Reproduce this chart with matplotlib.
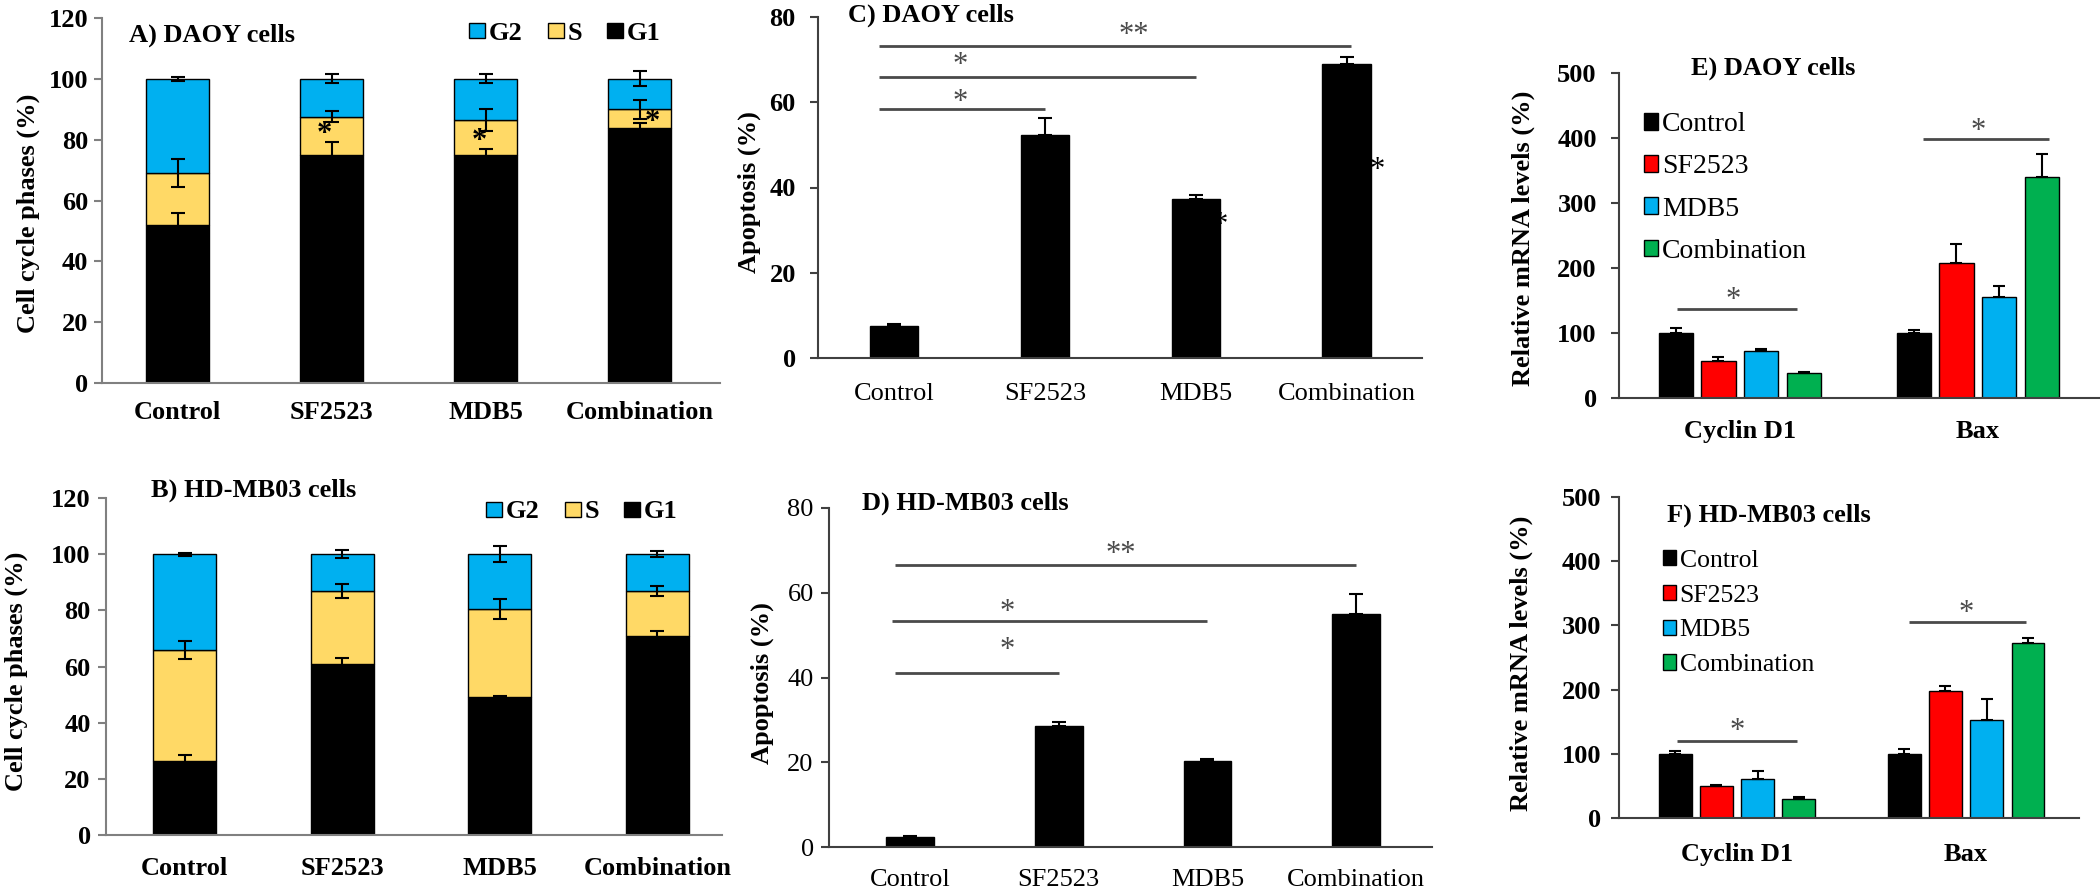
import matplotlib
matplotlib.use('Agg')
import matplotlib.pyplot as plt
from matplotlib.transforms import offset_copy
import numpy as np

plt.rcParams['font.family'] = ['Liberation Serif', 'DejaVu Serif']
plt.rcParams['font.size'] = 19

# --- data ---
cats = ['Control', 'SF2523', 'MDB5', 'Combination']

# A) DAOY cell cycle (%)
daoy_g1 = [52, 75, 75, 84]
daoy_s = [17, 12.5, 11.5, 6]
daoy_g2 = [31, 12.5, 13.5, 10]
daoy_g1_err = [3.8, 4.3, 2, 1.5]
daoy_s_err = [4.5, 1.8, 3.5, 3.2]
daoy_g2_err = [0.7, 1.5, 1.5, 2.5]

# B) HD-MB03 cell cycle (%)
hdm_g1 = [26.5, 61, 49, 71]
hdm_s = [39.5, 26, 31.5, 16]
hdm_g2 = [34, 13, 19.5, 13]
hdm_g1_err = [2, 2, 0.5, 1.8]
hdm_s_err = [3.2, 2.5, 3.5, 1.8]
hdm_g2_err = [0.5, 1.4, 2.8, 1]

# C/D) apoptosis (%)
apop_daoy = [7.5, 52.3, 37.4, 69.0]
apop_daoy_err = [0.4, 3.9, 0.8, 1.6]
apop_hdm = [2.4, 28.5, 20.4, 55.1]
apop_hdm_err = [0.3, 1.1, 0.3, 4.6]

# E/F) relative mRNA levels (%)
genes = ['Cyclin D1', 'Bax']
daoy_ctrl = [100, 100]
daoy_sf = [57, 208]
daoy_mdb = [73, 156]
daoy_comb = [38, 340]
daoy_ctrl_err = [7, 4]
daoy_sf_err = [6, 29]
daoy_mdb_err = [2.5, 16]
daoy_comb_err = [2.5, 35]

hdm_ctrl = [100, 100]
hdm_sf = [50, 198]
hdm_mdb = [61, 152]
hdm_comb = [29, 273]
hdm_ctrl_err = [5, 7]
hdm_sf_err = [2, 8]
hdm_mdb_err = [12, 33]
hdm_comb_err = [3, 8]

# significance brackets: (x start, x end, height) and star labels (x, y, text)
sig_c_lines = [(-0.1, 1.0, 58.4), (-0.1, 2.0, 65.9), (-0.1, 3.03, 73.2)]
sig_c_stars = [(0.44, 61.5, '*'), (0.44, 70.3, '*'), (1.59, 77.2, '**')]
sig_d_lines = [(-0.1, 1.0, 41.0), (-0.12, 2.0, 53.4), (-0.1, 3.0, 66.6)]
sig_d_stars = [(0.65, 47.9, '*'), (0.65, 56.9, '*'), (1.42, 70.7, '**')]
sig_e_lines = [(-0.265, 0.24, 137), (0.77, 1.30, 398)]
sig_e_stars = [(-0.03, 161, '*'), (1.0, 420, '*')]
sig_f_lines = [(-0.26, 0.26, 120), (0.75, 1.26, 305)]
sig_f_stars = [(0.0, 145, '*'), (1.0, 329, '*')]

BLUE = '#00B0F0'
YELLOW = '#FFD966'
RED = '#FF0000'
GREEN = '#00B050'
SIG = '#4a4a4a'
STAR_FS = 22

W, H = 2100, 893
fig = plt.figure(figsize=(21, 8.93), dpi=100)


def add_axes(left, top, right, bottom):
    return fig.add_axes([left / W, 1 - bottom / H, (right - left) / W, (bottom - top) / H])


def fxy(x, y):
    return x / W, 1 - y / H


def star(ax, x, y, t, color='black', weight='normal'):
    # the asterisk sits high in the em box: anchor on the baseline and drop it
    tr = offset_copy(ax.transData, fig=fig, x=0, y=-0.47 * STAR_FS, units='points')
    ax.text(x, y, t, ha='center', va='baseline', fontsize=STAR_FS, color=color,
            fontweight=weight, transform=tr)


def style(ax, spine, ybold, xbold, xpad, ypad):
    for s in ['top', 'right']:
        ax.spines[s].set_visible(False)
    for s in ['left', 'bottom']:
        ax.spines[s].set_color(spine)
        ax.spines[s].set_linewidth(1.5)
    ax.tick_params(axis='x', length=0, pad=xpad)
    ax.tick_params(axis='y', length=6, width=1.5, color=spine, pad=ypad)
    plt.setp(ax.get_yticklabels(), fontweight='bold' if ybold else 'normal')
    plt.setp(ax.get_xticklabels(), fontweight='bold' if xbold else 'normal')


def cell_cycle(ax, g1, s, g2, g1e, se, g2e, width):
    x = np.arange(len(cats))
    kw = dict(edgecolor='black', linewidth=1)
    b1 = ax.bar(x, g1, width, color='black', label='G1', **kw)
    b2 = ax.bar(x, s, width, bottom=g1, color=YELLOW, label='S', **kw)
    b3 = ax.bar(x, g2, width, bottom=np.add(g1, s), color=BLUE, label='G2', **kw)
    ekw = dict(fmt='none', ecolor='black', elinewidth=1.5, capsize=5, capthick=1.5)
    ax.errorbar(x, g1, yerr=g1e, **ekw)
    ax.errorbar(x, np.add(g1, s), yerr=se, **ekw)
    ax.errorbar(x, np.add(np.add(g1, s), g2), yerr=g2e, **ekw)
    ax.set_ylim(0, 120)
    ax.set_yticks(range(0, 121, 20))
    ax.set_xticks(x, cats)
    return [b3, b2, b1]


def phase_legend(ax, handles, cx, cy):
    ax.legend(handles, ['G2', 'S', 'G1'], ncol=3, frameon=False, loc='center',
              bbox_to_anchor=fxy(cx, cy), bbox_transform=fig.transFigure,
              prop={'weight': 'bold', 'size': 19}, handlelength=0.6, handleheight=0.5,
              handletextpad=0.15, columnspacing=0.95, borderpad=0)


# --- A) DAOY cell cycle ---
axA = add_axes(102, 18, 720, 383)
hA = cell_cycle(axA, daoy_g1, daoy_s, daoy_g2, daoy_g1_err, daoy_s_err, daoy_g2_err, 0.41)
axA.set_xlim(-0.49, 3.52)
style(axA, '#808080', True, True, 13, 4)
phase_legend(axA, hA, 565, 33)
for xs, ys in [(0.955, 83.8), (1.96, 81.5), (3.08, 88)]:
    star(axA, xs, ys, '*', weight='bold')
fig.text(*fxy(129, 35), 'A) DAOY cells', ha='left', va='center', fontsize=19, fontweight='bold')
fig.text(*fxy(28, 213), 'Cell cycle phases (%)', rotation=90, ha='center', va='center',
         fontsize=19, fontweight='bold')

# --- B) HD-MB03 cell cycle ---
axB = add_axes(106, 498, 722, 835)
hB = cell_cycle(axB, hdm_g1, hdm_s, hdm_g2, hdm_g1_err, hdm_s_err, hdm_g2_err, 0.40)
axB.set_xlim(-0.50, 3.41)
style(axB, '#808080', True, True, 16, 5)
phase_legend(axB, hB, 582, 512)
fig.text(*fxy(151, 490), 'B) HD-MB03 cells', ha='left', va='center', fontsize=19, fontweight='bold')
fig.text(*fxy(16, 671), 'Cell cycle phases (%)', rotation=90, ha='center', va='center',
         fontsize=19, fontweight='bold')


# --- C/D) apoptosis ---
def apoptosis(ax, vals, errs, lines, stars):
    x = np.arange(len(cats))
    ax.bar(x, vals, 0.32, color='black', edgecolor='black')
    ax.errorbar(x, vals, yerr=[np.zeros(len(errs)), errs], fmt='none', ecolor='black',
                elinewidth=1.5, capsize=5, capthick=1.5)
    for x0, x1, h in lines:
        ax.plot([x0, x1], [h, h], color=SIG, lw=2, solid_capstyle='butt')
    for xs, ys, t in stars:
        star(ax, xs, ys, t, color=SIG)
    ax.set_ylim(0, 80)
    ax.set_yticks(range(0, 81, 20))
    ax.set_xticks(x, cats)


axC = add_axes(818, 17, 1422, 358)
apoptosis(axC, apop_daoy, apop_daoy_err, sig_c_lines, sig_c_stars)
axC.set_xlim(-0.504, 3.5)
style(axC, '#404040', True, False, 18, 10)
star(axC, 2.16, 32.8, '*')
star(axC, 3.2, 45.7, '*')
fig.text(*fxy(848, 15), 'C) DAOY cells', ha='left', va='center', fontsize=19, fontweight='bold')
fig.text(*fxy(749, 192), 'Apoptosis (%)', rotation=90, ha='center', va='center',
         fontsize=19, fontweight='bold')

axD = add_axes(829, 508, 1432, 847)
apoptosis(axD, apop_hdm, apop_hdm_err, sig_d_lines, sig_d_stars)
axD.set_xlim(-0.545, 3.51)
style(axD, '#404040', False, False, 16, 5)
fig.text(*fxy(862, 503), 'D) HD-MB03 cells', ha='left', va='center', fontsize=19, fontweight='bold')
fig.text(*fxy(762, 683), 'Apoptosis (%)', rotation=90, ha='center', va='center',
         fontsize=19, fontweight='bold')


# --- E/F) mRNA levels ---
def mrna(ax, series, errs, lines, stars):
    x = np.arange(len(genes))
    colors = ['black', RED, BLUE, GREEN]
    offsets = [-0.27, -0.09, 0.09, 0.27]
    for vals, err, c, off, lab in zip(series, errs, colors, offsets, cats):
        ax.bar(x + off, vals, 0.143, color=c, edgecolor='black', linewidth=1, label=lab)
        ax.errorbar(x + off, vals, yerr=[np.zeros(len(err)), err], fmt='none', ecolor='black',
                    elinewidth=1.5, capsize=4, capthick=1.5)
    for x0, x1, h in lines:
        ax.plot([x0, x1], [h, h], color=SIG, lw=2, solid_capstyle='butt')
    for xs, ys, t in stars:
        star(ax, xs, ys, t, color=SIG)
    ax.set_ylim(0, 500)
    ax.set_yticks(range(0, 501, 100))
    ax.set_xticks(x, genes)


axE = add_axes(1619, 73, 2100, 398)
mrna(axE, [daoy_ctrl, daoy_sf, daoy_mdb, daoy_comb],
     [daoy_ctrl_err, daoy_sf_err, daoy_mdb_err, daoy_comb_err], sig_e_lines, sig_e_stars)
axE.set_xlim(-0.508, 1.513)
style(axE, '#404040', True, True, 16, 10)
axE.legend(frameon=False, loc='center left', bbox_to_anchor=fxy(1644, 188),
           bbox_transform=fig.transFigure, fontsize=20, handlelength=0.5, handleheight=0.55,
           handletextpad=0.15, labelspacing=0.62, borderpad=0, borderaxespad=0)
fig.text(*fxy(1691, 68), 'E) DAOY cells', ha='left', va='center', fontsize=19, fontweight='bold')
fig.text(*fxy(1523, 238), 'Relative mRNA levels (%)', rotation=90, ha='center', va='center',
         fontsize=19, fontweight='bold')

axF = add_axes(1619, 497, 2079, 818)
mrna(axF, [hdm_ctrl, hdm_sf, hdm_mdb, hdm_comb],
     [hdm_ctrl_err, hdm_sf_err, hdm_mdb_err, hdm_comb_err], sig_f_lines, sig_f_stars)
axF.set_xlim(-0.515, 1.493)
style(axF, '#404040', True, True, 18, 7)
axF.legend(frameon=False, loc='center left', bbox_to_anchor=fxy(1663, 613),
           bbox_transform=fig.transFigure, fontsize=18.5, handlelength=0.5, handleheight=0.55,
           handletextpad=0.15, labelspacing=0.5, borderpad=0, borderaxespad=0)
fig.text(*fxy(1667, 515), 'F) HD-MB03 cells', ha='left', va='center', fontsize=19, fontweight='bold')
fig.text(*fxy(1521, 663), 'Relative mRNA levels (%)', rotation=90, ha='center', va='center',
         fontsize=19, fontweight='bold')

fig.savefig('out.png', dpi=100)
